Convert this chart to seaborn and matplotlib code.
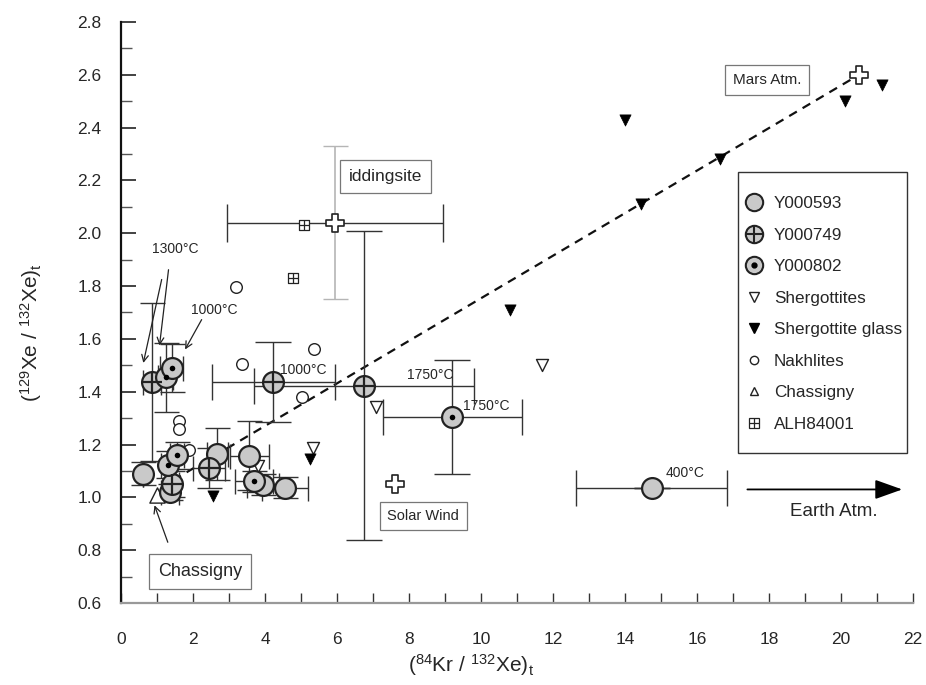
import numpy as np
import pandas as pd
import matplotlib
matplotlib.use("Agg")
import matplotlib.pyplot as plt
import seaborn as sns
from matplotlib.lines import Line2D
from matplotlib.patches import Rectangle
from matplotlib.ticker import MultipleLocator

sns.set_theme(style="white")
plt.rcParams["font.family"] = ["Liberation Sans", "DejaVu Sans"]
plt.rcParams["mathtext.default"] = "regular"

# ---------------- data ----------------
y593_x = [0.6, 1.35, 2.68, 3.56, 3.95, 4.56, 14.74]
y593_y = [1.09, 1.02, 1.164, 1.158, 1.048, 1.036, 1.036]
y593_xerr = [0.0, 0.25, 0.30, 0.54, 0.45, 0.64, 2.10]
y593_yerr = [0.045, 0.03, 0.10, 0.13, 0.04, 0.04, 0.0]

y749_x = [0.85, 1.41, 2.44, 4.23, 6.75]
y749_y = [1.437, 1.05, 1.111, 1.437, 1.423]
y749_xerr = [0.25, 0.20, 0.44, 1.71, 3.06]
y749_yerr = [0.30, 0.05, 0.075, 0.15, 0.585]

y802_x = [1.24, 1.41, 1.31, 1.56, 3.70, 9.20]
y802_y = [1.455, 1.49, 1.124, 1.159, 1.061, 1.305]
y802_xerr = [0.20, 0.32, 0.20, 0.20, 0.53, 1.93]
y802_yerr = [0.13, 0.09, 0.05, 0.05, 0.04, 0.215]

sherg_x = [3.80, 5.32, 7.08, 11.69]
sherg_y = [1.117, 1.187, 1.342, 1.503]

glass_x = [2.56, 5.25, 10.80, 14.00, 14.45, 16.65, 20.10, 21.15]
glass_y = [1.004, 1.145, 1.71, 2.43, 2.11, 2.28, 2.50, 2.56]

nakh_x = [1.61, 1.61, 1.89, 3.19, 3.37, 5.02, 5.36]
nakh_y = [1.29, 1.26, 1.18, 1.795, 1.506, 1.38, 1.56]

chass_x = [0.99]
chass_y = [1.01]

alh_x = [4.77, 5.09]
alh_y = [1.83, 2.03]

ref_names = ["iddingsite", "Solar Wind", "Mars Atm."]
ref_x = [5.94, 7.60, 20.50]
ref_y = [2.04, 1.05, 2.60]

idd_xerr = 3.0
idd_yerr = 0.29

mix_x = [1.45, 20.50]
mix_y = [1.065, 2.60]

x_ticks = list(range(0, 23, 2))
y_ticks = [0.6, 0.8, 1.0, 1.2, 1.4, 1.6, 1.8, 2.0, 2.2, 2.4, 2.6, 2.8]

# ---------------- figure ----------------
fig = plt.figure(figsize=(9.26, 6.85), dpi=100)
ax = fig.add_axes([121 / 926, 1 - 603 / 685, (913 - 121) / 926, (603 - 22) / 685])

GRAY = "#c9c9c9"
EDGE = "#222222"
ECOL = "#333333"

def ebars(xs, ys, xe, ye):
    xs, ys, xe, ye = map(np.asarray, (xs, ys, xe, ye))
    big = xe > 1.0
    for sel, cap in ((big, 13), (~big, 9)):
        if sel.any():
            ax.errorbar(xs[sel], ys[sel], xerr=xe[sel], yerr=ye[sel], fmt="none",
                        ecolor=ECOL, elinewidth=1.0, capsize=cap, capthick=1.0,
                        zorder=2)

ebars(y593_x, y593_y, y593_xerr, y593_yerr)
ebars(y749_x, y749_y, y749_xerr, y749_yerr)
ebars(y802_x, y802_y, y802_xerr, y802_yerr)

# iddingsite error bars
ax.errorbar([ref_x[0]], [ref_y[0]], xerr=idd_xerr, fmt="none", ecolor=ECOL,
            elinewidth=1.0, capsize=14, zorder=2)
ax.errorbar([ref_x[0]], [ref_y[0]], yerr=idd_yerr, fmt="none", ecolor="#b5b5b5",
            elinewidth=1.2, capsize=9, zorder=1.5)

# mixing line
sns.lineplot(x=mix_x, y=mix_y, ax=ax, color="#111111", lw=1.6,
             linestyle=(0, (4, 3)), zorder=1)

MS = 15
df593 = pd.DataFrame({"x": y593_x, "y": y593_y})
df749 = pd.DataFrame({"x": y749_x, "y": y749_y})
df802 = pd.DataFrame({"x": y802_x, "y": y802_y})

for d in (df593, df749, df802):
    sns.scatterplot(data=d, x="x", y="y", ax=ax, marker="o", s=MS ** 2,
                    color=GRAY, edgecolor=EDGE, linewidth=1.6, zorder=4)
sns.scatterplot(data=df749, x="x", y="y", ax=ax, marker="+", s=MS ** 2,
                color=EDGE, linewidth=1.6, zorder=5)
sns.scatterplot(data=df802, x="x", y="y", ax=ax, marker="o", s=16,
                color="black", edgecolor="black", linewidth=0, zorder=5)

sns.scatterplot(x=sherg_x, y=sherg_y, ax=ax, marker="v", s=75,
                facecolor="white", edgecolor=EDGE, linewidth=1.0, zorder=3)
sns.scatterplot(x=glass_x, y=glass_y, ax=ax, marker="v", s=65,
                color="black", edgecolor="black", linewidth=0.5, zorder=3)
sns.scatterplot(x=nakh_x, y=nakh_y, ax=ax, marker="o", s=70,
                facecolor="white", edgecolor=EDGE, linewidth=1.0, zorder=3)
sns.scatterplot(x=chass_x, y=chass_y, ax=ax, marker="^", s=120,
                facecolor="white", edgecolor=EDGE, linewidth=1.0, zorder=3)
sns.scatterplot(x=alh_x, y=alh_y, ax=ax, marker="s", s=55,
                facecolor="white", edgecolor=EDGE, linewidth=0.9, zorder=3)
sns.scatterplot(x=alh_x, y=alh_y, ax=ax, marker="+", s=55,
                color=EDGE, linewidth=0.9, zorder=3.5)
sns.scatterplot(x=ref_x, y=ref_y, ax=ax, marker="P", s=170,
                facecolor="white", edgecolor=EDGE, linewidth=1.2, zorder=4)

# ---------------- text annotations ----------------
box = dict(boxstyle="square,pad=0.5", fc="white", ec="#777777", lw=0.9)
ax.text(7.35, 2.215, "iddingsite", fontsize=12.5, ha="center", va="center", bbox=box, zorder=6)
ax.text(8.4, 0.93, "Solar Wind", fontsize=10.5, ha="center", va="center", bbox=box, zorder=6)
ax.text(17.95, 2.58, "Mars Atm.", fontsize=11, ha="center", va="center", bbox=box, zorder=6)
ax.text(2.2, 0.72, "Chassigny", fontsize=13, ha="center", va="center", bbox=box, zorder=6)

tfs = 10
ax.text(1.52, 1.94, "1300°C", fontsize=tfs, ha="center", va="center")
ax.text(2.6, 1.71, "1000°C", fontsize=tfs, ha="center", va="center")
ax.text(5.05, 1.484, "1000°C", fontsize=tfs, ha="center", va="center")
ax.text(8.6, 1.465, "1750°C", fontsize=tfs, ha="center", va="center")
ax.text(10.15, 1.345, "1750°C", fontsize=tfs, ha="center", va="center")
ax.text(15.67, 1.092, "400°C", fontsize=tfs, ha="center", va="center")
ax.text(19.8, 0.945, "Earth Atm.", fontsize=13.5, ha="center", va="center")

arr = dict(arrowstyle="->", color="#222222", lw=0.9, shrinkA=0, shrinkB=0)
ax.annotate("", xy=(0.62, 1.509), xytext=(1.13, 1.825), arrowprops=arr)
ax.annotate("", xy=(1.07, 1.575), xytext=(1.32, 1.862), arrowprops=arr)
ax.annotate("", xy=(1.78, 1.56), xytext=(2.24, 1.673), arrowprops=arr)
ax.annotate("", xy=(0.93, 0.97), xytext=(1.3, 0.83), arrowprops=arr)
ax.annotate("", xy=(21.7, 1.03), xytext=(17.4, 1.03),
            arrowprops=dict(arrowstyle="-|>,head_length=1.4,head_width=0.5",
                            color="black", lw=1.3, shrinkA=0, shrinkB=0))

# ---------------- legend ----------------
def L(**kw):
    base = dict(ls="none")
    base.update(kw)
    return Line2D([], [], **base)

LM = 12.5
handles = [
    L(marker="o", ms=LM, mfc=GRAY, mec=EDGE, mew=1.5),
    (L(marker="o", ms=LM, mfc=GRAY, mec=EDGE, mew=1.5), L(marker="+", ms=LM, mec=EDGE, mew=1.5)),
    (L(marker="o", ms=LM, mfc=GRAY, mec=EDGE, mew=1.5), L(marker="o", ms=3.5, mfc="black", mec="black")),
    L(marker="v", ms=6.5, mfc="white", mec=EDGE, mew=1.0),
    L(marker="v", ms=6.5, mfc="black", mec="black"),
    L(marker="o", ms=6, mfc="white", mec=EDGE, mew=1.0),
    L(marker="^", ms=6, mfc="white", mec=EDGE, mew=1.0),
    (L(marker="s", ms=6.5, mfc="white", mec=EDGE, mew=0.9), L(marker="+", ms=6.5, mec=EDGE, mew=0.9)),
]
labels = ["Y000593", "Y000749", "Y000802", "Shergottites", "Shergottite glass",
          "Nakhlites", "Chassigny", "ALH84001"]
leg = ax.legend(handles, labels, loc="upper left",
                bbox_to_anchor=((745 - 121) / 792, (603 - 196) / 581),
                fontsize=12.3, frameon=False,
                handlelength=1.0, handletextpad=0.7, labelspacing=0.97,
                borderpad=0.0, borderaxespad=0)
ax.add_patch(Rectangle(((738 - 121) / 792, (603 - 453) / 581), 169 / 792, (453 - 172) / 581,
                       transform=ax.transAxes, fill=False, ec="#333333", lw=1.0,
                       zorder=6, clip_on=False))

# ---------------- axes ----------------
ax.set_xlim(0, 22)
ax.set_ylim(0.6, 2.8)
ax.set_xticks(x_ticks)
ax.set_yticks(y_ticks)
ax.set_xticklabels([str(v) for v in x_ticks])
ax.set_yticklabels([f"{v:.1f}" for v in y_ticks])
ax.xaxis.set_minor_locator(MultipleLocator(1))
ax.yaxis.set_minor_locator(MultipleLocator(0.1))
ax.tick_params(axis="y", which="major", direction="in", length=11, width=1.2,
               color="#222222", labelsize=12.5, pad=14, left=True)
ax.tick_params(axis="y", which="minor", direction="in", length=8, width=1.0,
               color="#555555", left=True)
ax.tick_params(axis="x", which="both", direction="in", length=7, width=1.0,
               color="#333333", labelsize=12.5, pad=21, bottom=True)
for s in ("top", "right"):
    ax.spines[s].set_visible(False)
ax.spines["left"].set_color("#111111")
ax.spines["left"].set_linewidth(1.6)
ax.spines["bottom"].set_color("#999999")
ax.spines["bottom"].set_linewidth(1.6)

ax.set_xlabel(r"($^{84}$Kr / $^{132}$Xe)$_t$", fontsize=15)
ax.set_ylabel(r"($^{129}$Xe / $^{132}$Xe)$_t$", fontsize=15)
ax.xaxis.set_label_coords((471 - 121) / 792, (603 - 652) / 581)
ax.yaxis.set_label_coords((44 - 121) / 792, (603 - 333) / 581)

fig.savefig("out.png", dpi=100)
